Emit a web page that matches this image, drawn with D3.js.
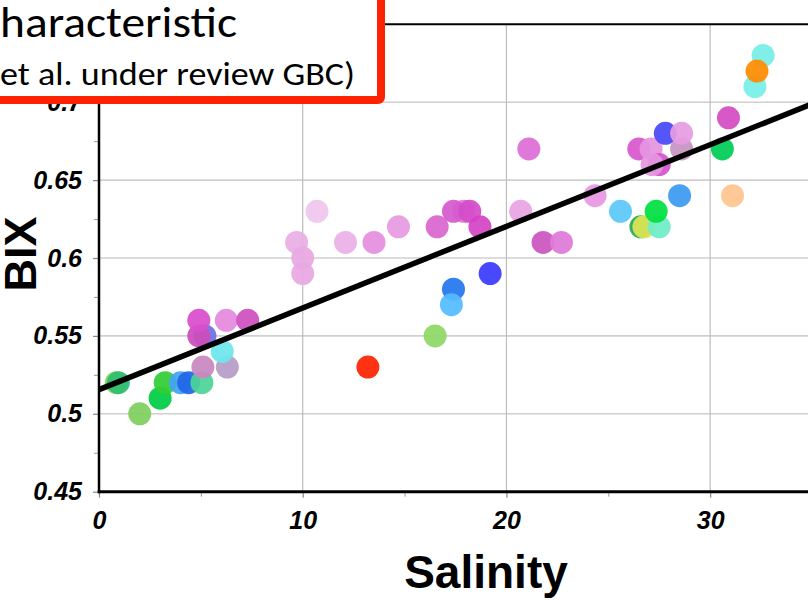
<!DOCTYPE html>
<html>
<head>
<meta charset="utf-8">
<script src="https://cdn.jsdelivr.net/npm/d3@7"></script>
<style>
  html, body { margin: 0; padding: 0; background: #fff; }
  svg { display: block; }
</style>
</head>
<body>
<svg id="chart" width="808" height="606"></svg>
<script>
// ---- data ----
const salinity = [0.85, 0.95, 2.0, 3.0, 3.25, 4.0, 4.4, 5.05, 5.1, 6.3, 6.05,
  5.2, 4.9, 4.9, 6.25, 7.3,
  10.7, 9.7, 10.0, 10.0, 12.1, 13.5, 13.2,
  14.7, 16.6, 17.9, 17.4, 18.2, 18.7, 17.4, 17.3, 19.2, 16.5, 21.1, 20.7, 21.8, 22.7,
  24.35, 25.6, 26.6, 26.75, 27.5, 27.35, 28.5,
  26.5, 27.1, 27.8, 28.6, 28.6, 27.5, 27.15,
  30.9, 30.6, 31.1, 32.6, 32.2, 32.3];
const bix = [0.52, 0.52, 0.50, 0.51, 0.52, 0.52, 0.52, 0.52, 0.53, 0.53, 0.54,
  0.55, 0.55, 0.56, 0.56, 0.56,
  0.63, 0.61, 0.60, 0.59, 0.61, 0.61, 0.53,
  0.62, 0.62, 0.63, 0.63, 0.63, 0.62, 0.58, 0.57, 0.59, 0.55, 0.67, 0.63, 0.61, 0.61,
  0.64, 0.63, 0.62, 0.62, 0.62, 0.63, 0.64,
  0.67, 0.67, 0.68, 0.67, 0.68, 0.66, 0.66,
  0.69, 0.67, 0.64, 0.73, 0.71, 0.72];
const pointColors = ["#8bd35a", "#2fbd72", "#7fcf5f", "#00cc44", "#33cc33", "#44a4f0", "#1f66e8", "#4cd497", "#c888c0", "#b69cc8", "#6ee6ee",
  "#7070e0", "#cc4cbc", "#d84ecc", "#e48ade", "#cc50c0",
  "#efc6ee", "#e8aee4", "#e8a8e2", "#e8a8e2", "#ebb0e6", "#e58ee0", "#ff2200",
  "#e69ae0", "#d966d0", "#e07ad6", "#d65acc", "#d44cc8", "#d444c4", "#2277ee", "#55bbff", "#3a3aff", "#8ed866", "#dd6ed6", "#e8a4e4", "#cc55c0", "#e07ad8",
  "#e898e2", "#5cc8fa", "#22aa55", "#dde455", "#6eeec6", "#00e040", "#3a9af0",
  "#d856cc", "#e595e0", "#4848f8", "#c494c0", "#e69ce2", "#d455cc", "#e596e0",
  "#d44cc4", "#00cc55", "#ffc58f", "#77eee6", "#77eee8", "#ff8c00"];
const xMajorTicks = [0, 10, 20, 30];
const xMinorTicks = [5, 15, 25];
const yMajorTicks = [0.45, 0.5, 0.55, 0.6, 0.65, 0.7];
const yMinorTicks = [0.475, 0.525, 0.575, 0.625, 0.675, 0.725];
const yTickLabels = ["0.45", "0.5", "0.55", "0.6", "0.65", "0.7"];
const xTickLabels = ["0", "10", "20", "30"];
const fitX = [0, 35];
const fitIntercept = 0.5155;
const fitSlope = 0.00524;
const titleLines = ["haracteristic", "et al. under review GBC)"];
const xTitle = "Salinity";
const yTitle = "BIX";

// ---- drawing ----
const svg = d3.select("#chart");
const x = d3.scaleLinear().domain([0, 35]).range([99, 812]);
const y = d3.scaleLinear().domain([0.45, 0.75]).range([491.7, 24.3]);

// grid
svg.append("g").selectAll("line").data(yMajorTicks.slice(1)).join("line")
  .attr("x1", x(0)).attr("x2", x(35))
  .attr("y1", d => y(d)).attr("y2", d => y(d))
  .attr("stroke", "#d0d0d0").attr("stroke-width", 1.6);
svg.append("g").selectAll("line").data(xMajorTicks.slice(1)).join("line")
  .attr("x1", d => x(d)).attr("x2", d => x(d))
  .attr("y1", y(0.45)).attr("y2", y(0.75))
  .attr("stroke", "#bdbdbd").attr("stroke-width", 1.2);

// top border
svg.append("line").attr("x1", x(0)).attr("x2", x(35))
  .attr("y1", y(0.75)).attr("y2", y(0.75))
  .attr("stroke", "#000").attr("stroke-width", 2);

// minor ticks
svg.append("g").attr("transform", `translate(${x(0)},0)`)
  .call(d3.axisLeft(y).tickValues(yMinorTicks).tickSize(5).tickFormat(""))
  .call(g => g.select(".domain").remove())
  .call(g => g.selectAll("line").attr("stroke", "#999").attr("stroke-width", 1));
svg.append("g").attr("transform", `translate(0,${y(0.45)})`)
  .call(d3.axisBottom(x).tickValues(xMinorTicks).tickSize(5).tickFormat(""))
  .call(g => g.select(".domain").remove())
  .call(g => g.selectAll("line").attr("stroke", "#999").attr("stroke-width", 1));

// major axes
const yAxis = svg.append("g").attr("transform", `translate(${x(0)},0)`)
  .call(d3.axisLeft(y).tickValues(yMajorTicks).tickSize(6).tickPadding(11)
    .tickFormat((d, i) => yTickLabels[i]));
yAxis.select(".domain").remove();
yAxis.selectAll("line").attr("stroke", "#888").attr("stroke-width", 1.2);
yAxis.selectAll("text")
  .attr("fill", "#000")
  .style("font-family", "'Liberation Sans', Arial, sans-serif")
  .style("font-weight", "bold").style("font-style", "italic")
  .style("font-size", "25px");

const xAxis = svg.append("g").attr("transform", `translate(0,${y(0.45)})`)
  .call(d3.axisBottom(x).tickValues(xMajorTicks).tickSize(6).tickPadding(14)
    .tickFormat((d, i) => xTickLabels[i]));
xAxis.select(".domain").remove();
xAxis.selectAll("line").attr("stroke", "#888").attr("stroke-width", 1.2);
xAxis.selectAll("text")
  .attr("fill", "#000")
  .style("font-family", "'Liberation Sans', Arial, sans-serif")
  .style("font-weight", "bold").style("font-style", "italic")
  .style("font-size", "25px");

// axis lines
svg.append("line").attr("x1", x(0)).attr("x2", x(0))
  .attr("y1", y(0.75)).attr("y2", y(0.45) + 1.5)
  .attr("stroke", "#000").attr("stroke-width", 2.5);
svg.append("line").attr("x1", x(0) - 1.2).attr("x2", x(35))
  .attr("y1", y(0.45)).attr("y2", y(0.45))
  .attr("stroke", "#000").attr("stroke-width", 3);

// points
svg.append("g").selectAll("circle").data(salinity).join("circle")
  .attr("cx", d => x(d))
  .attr("cy", (d, i) => y(bix[i]))
  .attr("r", 11.5)
  .attr("fill", (d, i) => pointColors[i])
  .attr("fill-opacity", 0.93);

// fit line
svg.append("line")
  .attr("x1", x(fitX[0])).attr("y1", y(fitIntercept + fitSlope * fitX[0]))
  .attr("x2", x(fitX[1])).attr("y2", y(fitIntercept + fitSlope * fitX[1]))
  .attr("stroke", "#000").attr("stroke-width", 5.5);

// axis titles
svg.append("text").attr("x", 486).attr("y", 588)
  .attr("text-anchor", "middle")
  .style("font-family", "'Liberation Sans', Arial, sans-serif")
  .style("font-weight", "bold").style("font-size", "46px")
  .text(xTitle);
svg.append("text")
  .attr("transform", "translate(36,254) rotate(-90)")
  .attr("text-anchor", "middle")
  .style("font-family", "'Liberation Sans', Arial, sans-serif")
  .style("font-weight", "bold").style("font-size", "45px")
  .text(yTitle);

// title box
svg.append("rect")
  .attr("x", -30).attr("y", -30).attr("width", 411).attr("height", 130)
  .attr("rx", 3)
  .attr("fill", "#fff").attr("stroke", "#ff2200").attr("stroke-width", 8);
svg.append("text").attr("x", 0).attr("y", 37)
  .attr("textLength", 237).attr("lengthAdjust", "spacingAndGlyphs")
  .style("font-family", "Carlito, Lato, 'Open Sans', sans-serif")
  .style("font-size", "43px").attr("fill", "#000")
  .text(titleLines[0]);
svg.append("text").attr("x", 0).attr("y", 85)
  .attr("textLength", 355).attr("lengthAdjust", "spacingAndGlyphs")
  .style("font-family", "Carlito, Lato, 'Open Sans', sans-serif")
  .style("font-size", "32px").attr("fill", "#000")
  .text(titleLines[1]);
</script>
</body>
</html>
